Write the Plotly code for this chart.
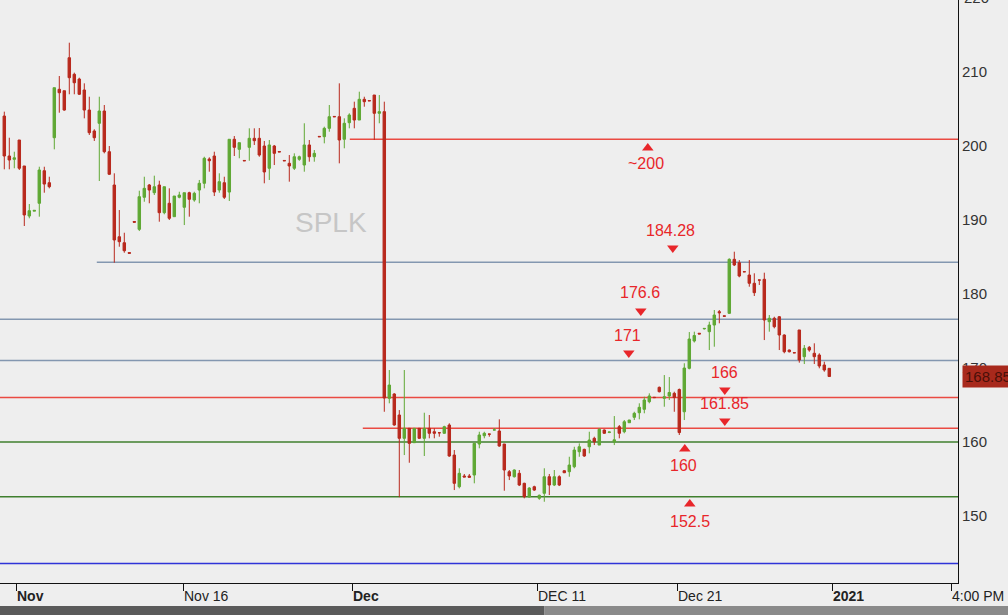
import plotly.graph_objects as go

# ---------------- data ----------------
bar_index = list(range(166))

opens = [204.05, 198.65, 198.2, 200.81, 197.30, 190.54, 191.2, 192.26, 196.66, 195.04,
         201.12, 207.66, 207.47, 211.93, 209.69, 209.05, 207.57, 204.86, 202.03, 203.07,
         204.73, 199.23, 194.73, 187.74, 186.93, 185.6, 189.8, 188.74, 193.07, 194.73,
         193.69, 194.73, 190.99, 192.26, 190.45, 193.07, 191.72, 193.69, 192.70, 194.05,
         194.96, 198.24, 198.65, 194.05, 195.04, 193.78, 200.91, 199.55, 198.05, 199.82,
         201.04, 201.04, 200.00, 196.99, 200.00, 199.25, 198.05, 197.66, 196.99, 198.20,
         197.43, 200.14, 198.55, 201.3, 201.26, 202.39, 204.0, 203.96, 200.91, 203.15,
         205.09, 203.51, 206.31, 206.15, 206.89, 204.42, 204.64, 165.91, 166.49, 163.65,
         160.50, 161.85, 159.91, 161.85, 160.50, 161.85, 161.39, 161.26, 161.18, 162.30,
         158.24, 153.96, 155.41, 155.41, 155.54, 159.73, 160.85, 161.08, 161.62, 161.49,
         159.73, 155.99, 155.31, 155.77, 154.42, 152.57, 153.96, 152.40, 153.07, 155.31,
         154.19, 155.31, 156.12, 155.99, 156.66, 158.69, 159.01, 159.36, 160.50, 159.59,
         161.62, 161.30, 160.00, 162.07, 161.39, 162.61, 163.34, 163.96, 164.42, 165.45,
         166.05, 167.39, 165.91, 166.22, 166.58, 167.09, 164.09, 169.96, 173.65, 174.70,
         175.30, 174.91, 175.81, 177.61, 177.05, 177.39, 184.69, 184.23, 183.02, 182.57,
         181.45, 181.90, 181.99, 176.26, 176.72, 176.93, 174.46, 172.43, 172.08, 175.14,
         171.53, 172.80, 171.99, 171.76, 170.41, 169.96]

highs = [204.64, 201.12, 199.23, 200.81, 197.30, 192.16, 191.3, 197.20, 197.20, 195.85,
         207.88, 209.46, 207.47, 213.96, 209.91, 209.23, 208.47, 206.66, 202.26, 206.66,
         205.54, 200.00, 196.31, 191.35, 188.28, 185.6, 189.8, 193.96, 195.85, 194.86,
         195.99, 195.31, 194.50, 194.28, 193.24, 193.82, 193.69, 193.82, 193.82, 195.41,
         198.55, 198.47, 199.23, 196.31, 195.85, 200.91, 201.35, 200.45, 198.05, 202.39,
         202.39, 202.43, 200.68, 200.81, 200.14, 199.25, 198.05, 198.78, 199.01, 198.70,
         203.07, 200.81, 199.46, 201.3, 202.61, 205.54, 204.0, 208.47, 203.74, 204.42,
         205.99, 207.34, 206.66, 206.15, 206.89, 206.89, 205.99, 169.73, 166.60, 164.32,
         169.73, 161.90, 161.85, 161.90, 163.96, 163.65, 161.85, 161.30, 162.20, 162.53,
         158.92, 156.45, 155.68, 155.68, 159.82, 161.39, 161.39, 161.08, 161.89, 163.07,
         159.73, 156.22, 156.30, 156.22, 154.50, 153.90, 154.10, 152.90, 156.45, 155.68,
         156.22, 155.50, 156.20, 158.01, 159.36, 159.82, 159.10, 161.39, 160.72, 161.85,
         161.70, 161.40, 163.51, 162.30, 162.97, 163.00, 164.09, 165.23, 166.12, 166.58,
         166.05, 167.50, 169.05, 168.78, 166.80, 167.23, 170.64, 174.86, 174.91, 174.70,
         175.40, 176.26, 177.84, 177.84, 177.05, 184.82, 185.72, 184.59, 183.02, 184.59,
         182.80, 181.90, 182.88, 177.16, 176.93, 177.03, 174.55, 172.50, 172.08, 175.14,
         173.11, 172.97, 173.34, 171.99, 170.85, 169.96]

lows = [196.85, 196.85, 196.99, 196.76, 189.19, 190.23, 191.2, 190.45, 193.69, 194.28,
        199.55, 204.50, 204.77, 206.99, 206.99, 206.89, 203.74, 201.49, 200.68, 195.27,
        199.01, 196.08, 184.23, 186.39, 185.58, 185.5, 189.7, 188.51, 192.47, 192.26,
        193.38, 189.77, 190.77, 190.00, 190.45, 192.93, 189.32, 190.45, 192.47, 192.26,
        194.28, 196.53, 193.24, 193.69, 192.84, 192.57, 198.65, 198.34, 198.00, 198.01,
        200.14, 198.55, 194.96, 195.41, 197.43, 199.20, 198.00, 195.18, 196.76, 198.00,
        196.53, 197.88, 197.88, 201.25, 200.36, 201.93, 203.95, 197.66, 199.69, 202.39,
        202.39, 203.51, 205.31, 206.10, 200.81, 203.07, 164.09, 165.23, 162.20, 152.55,
        158.24, 157.20, 159.91, 160.40, 158.11, 160.50, 160.50, 160.72, 161.10, 158.00,
        153.51, 153.74, 155.27, 155.20, 154.42, 159.15, 160.50, 160.72, 161.60, 159.36,
        153.42, 154.86, 155.20, 154.05, 152.39, 152.50, 153.40, 152.20, 151.93, 152.84,
        154.05, 154.05, 155.80, 155.31, 156.45, 158.01, 158.00, 158.47, 159.59, 159.59,
        161.10, 161.20, 159.59, 160.50, 161.18, 162.60, 162.97, 163.07, 163.88, 165.23,
        166.00, 166.70, 164.77, 165.68, 164.09, 160.95, 162.97, 169.82, 173.45, 174.60,
        175.20, 172.43, 172.88, 176.04, 177.00, 177.30, 183.78, 182.26, 183.00, 180.99,
        179.73, 181.22, 173.78, 174.91, 175.36, 172.43, 171.99, 172.10, 172.05, 170.72,
        170.54, 172.20, 170.54, 169.96, 169.50, 168.85]

closes = [198.65, 198.11, 198.4, 196.99, 190.68, 191.26, 191.3, 196.76, 194.86, 194.50,
          207.88, 207.20, 204.86, 209.23, 208.55, 206.99, 204.86, 201.80, 201.12, 204.73,
          199.23, 196.18, 187.30, 187.07, 185.85, 185.5, 189.7, 193.15, 194.28, 194.05,
          194.50, 190.99, 194.50, 190.23, 193.24, 193.38, 193.69, 192.80, 193.61, 194.96,
          198.34, 198.01, 193.78, 195.18, 193.07, 200.91, 199.82, 200.45, 198.00, 201.04,
          200.72, 198.78, 196.49, 200.14, 199.01, 199.20, 198.00, 197.30, 198.55, 198.55,
          200.14, 198.55, 199.01, 201.25, 202.39, 203.96, 203.95, 200.81, 203.07, 204.19,
          203.51, 206.31, 205.99, 206.10, 204.42, 204.64, 165.95, 167.70, 162.30, 160.50,
          161.85, 159.82, 161.85, 160.50, 161.85, 161.18, 161.18, 161.25, 162.07, 158.11,
          154.42, 155.77, 155.27, 155.23, 159.82, 160.95, 161.18, 161.06, 161.64, 159.46,
          156.22, 155.41, 156.22, 154.19, 152.61, 153.78, 153.51, 152.80, 155.31, 154.19,
          155.31, 154.19, 155.85, 156.89, 158.92, 159.36, 158.11, 160.27, 160.04, 161.72,
          161.18, 161.35, 160.30, 161.18, 162.74, 162.97, 163.88, 164.69, 165.68, 166.22,
          166.00, 166.80, 166.12, 166.69, 166.01, 161.28, 170.00, 173.92, 174.39, 174.60,
          175.35, 175.81, 177.16, 177.47, 177.00, 184.69, 183.92, 182.43, 183.00, 181.45,
          180.18, 181.88, 176.49, 176.72, 175.58, 174.46, 172.20, 172.20, 172.05, 171.08,
          172.66, 172.43, 171.53, 170.27, 169.73, 168.85]

last_price = 168.85

# horizontal levels
level_values = [200.9, 184.28, 176.6, 171.0, 166.0, 161.85, 160.0, 152.6, 143.6]
level_starts = [69.1, 18.5, None, None, None, 71.7, None, None, None]   # bar index where a line starts (None = left edge)
level_colors = ["#ea4a42", "#8397b0", "#8397b0", "#8397b0", "#ea4a42", "#ea4a42",
                "#3f7f2e", "#3f7f2e", "#2f33d8"]

# level labels with their markers
label_texts = ["~200", "184.28", "176.6", "171", "166", "161.85", "160", "152.5"]
label_text_x = [128.3, 133.3, 127.1, 124.7, 144.0, 144.0, 135.9, 137.1]
label_text_y = [197.7, 188.65, 180.14, 174.46, 169.46, 165.27, 156.89, 149.32]
marker_x = [128.7, 133.7, 127.3, 124.9, 144.1, 144.1, 136.1, 137.1]
marker_y = [199.73, 186.22, 177.7, 172.03, 167.03, 162.84, 159.05, 151.62]
marker_dir = ["up", "down", "down", "down", "down", "down", "up", "up"]

# x axis ticks (bar-index positions) and labels
x_tick_pos = [2.34, 35.74, 69.54, 106.54, 134.54, 165.54, 189.34]
x_tick_text = ["<b>Nov</b>", "Nov 16", "<b>Dec</b>", "DEC 11", "Dec 21", "<b>2021</b>", "4:00 PM"]
y_tick_vals = [150, 160, 170, 180, 190, 200, 210]
top_tick_text = "220"

# ---------------- figure ----------------
RED = "#b8291d"
GREEN = "#5fa834"
BG = "#eeeeee"
FONT = "Liberation Sans, Arial, sans-serif"
X_RANGE = [-0.86, 190.74]
Y_RANGE = [140.95, 219.73]

fig = go.Figure()

fig.add_trace(go.Candlestick(
    x=bar_index, open=opens, high=highs, low=lows, close=closes,
    increasing=dict(line=dict(color=GREEN, width=1), fillcolor=GREEN),
    decreasing=dict(line=dict(color=RED, width=1), fillcolor=RED),
    whiskerwidth=0, showlegend=False, hoverinfo="skip",
))

# level markers
fig.add_trace(go.Scatter(
    x=marker_x, y=marker_y, mode="markers",
    marker=dict(symbol=["triangle-up" if d == "up" else "triangle-down" for d in marker_dir],
                size=10, color="#e8262a", line=dict(width=0)),
    showlegend=False, hoverinfo="skip",
))

shapes = []
for v, s, c in zip(level_values, level_starts, level_colors):
    if s is None:
        shapes.append(dict(type="line", xref="paper", yref="y", x0=0, x1=1, y0=v, y1=v,
                           line=dict(color=c, width=1.5), layer="below"))
    else:
        shapes.append(dict(type="line", xref="x", yref="y", x0=s, x1=X_RANGE[1], y0=v, y1=v,
                           line=dict(color=c, width=1.5), layer="below"))

# bottom scrollbar strip
shapes.append(dict(type="rect", xref="paper", yref="paper", x0=0, x1=0.568, y0=-0.0395, y1=-0.06,
                   fillcolor="#5a5a5a", line=dict(width=0)))
shapes.append(dict(type="rect", xref="paper", yref="paper", x0=0.568, x1=1.06, y0=-0.0395, y1=-0.06,
                   fillcolor="#8a8a8a", line=dict(width=0)))

annotations = []
for t, x, y in zip(label_texts, label_text_x, label_text_y):
    annotations.append(dict(x=x, y=y, xref="x", yref="y", text=t, showarrow=False,
                            font=dict(family=FONT, size=16, color="#e8262a")))

annotations.append(dict(x=65.3, y=189.6, xref="x", yref="y", text="SPLK", showarrow=False,
                        font=dict(family=FONT, size=28, color="#c6c6c6")))

annotations.append(dict(x=1.0042, y=last_price, xref="paper", yref="y", text=str(last_price),
                        xanchor="left", yanchor="middle", showarrow=False,
                        bgcolor="#a8291c", borderpad=2,
                        font=dict(family=FONT, size=15, color="#4a0f08")))

# partially visible top tick label (220 lies just above the visible range)
annotations.append(dict(x=1.0042, y=1.0035, xref="paper", yref="paper", text=top_tick_text,
                        xanchor="left", yanchor="middle", showarrow=False,
                        font=dict(family=FONT, size=15, color="#333333")))

fig.update_layout(
    width=1008, height=615,
    margin=dict(l=0, r=50, t=0, b=32),
    paper_bgcolor=BG, plot_bgcolor=BG,
    shapes=shapes, annotations=annotations,
    xaxis=dict(range=X_RANGE, showgrid=False, zeroline=False, rangeslider=dict(visible=False),
               showline=True, linecolor="#111111", linewidth=1,
               tickmode="array", tickvals=x_tick_pos, ticktext=x_tick_text,
               ticks="outside", ticklen=7, tickcolor="#111111",
               ticklabelposition="outside right",
               tickfont=dict(family=FONT, size=14, color="#222222")),
    yaxis=dict(range=Y_RANGE, side="right", showgrid=False, zeroline=False,
               showline=True, linecolor="#111111", linewidth=1,
               tickmode="array", tickvals=y_tick_vals, ticks="",
               tickfont=dict(family=FONT, size=15, color="#333333")),
)

fig.write_html("out.html")
